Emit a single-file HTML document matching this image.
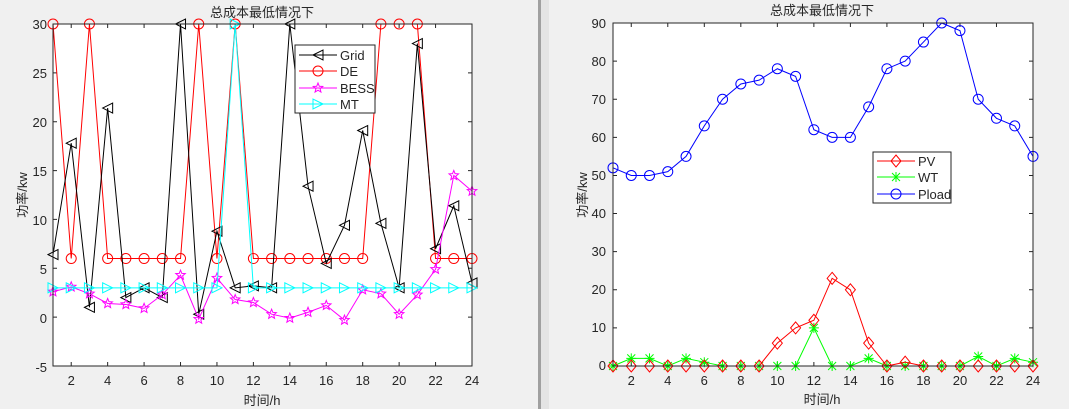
<!DOCTYPE html>
<html><head><meta charset="utf-8"><style>
body{margin:0;background:#f0f0f0;width:1069px;height:409px;overflow:hidden}
svg{position:absolute;left:0;top:0}
text{font-family:"Liberation Sans","Noto Sans CJK SC",sans-serif;font-size:13px;fill:#262626}
</style></head><body>
<svg width="1069" height="409" xmlns="http://www.w3.org/2000/svg">
<rect x="538" y="0" width="3" height="409" fill="#a0a0a0"/>
<rect x="541" y="0" width="8" height="409" fill="#e4e4e4"/>
<rect x="53" y="24" width="419" height="342" fill="#fff"/>
<rect x="613" y="23" width="420" height="343" fill="#fff"/>
<g id="g"></g>
<rect x="53" y="24" width="419" height="342" fill="none" stroke="#262626"/>
<rect x="613" y="23" width="420" height="343" fill="none" stroke="#262626"/>
<text x="262" y="17" text-anchor="middle">总成本最低情况下</text>
<text x="822" y="15" text-anchor="middle">总成本最低情况下</text>
<text x="262" y="405" text-anchor="middle" font-size="14">时间/h</text>
<text x="822" y="404" text-anchor="middle" font-size="14">时间/h</text>
<text transform="translate(27,195) rotate(-90)" text-anchor="middle" font-size="14">功率/kw</text>
<text transform="translate(587,195) rotate(-90)" text-anchor="middle" font-size="14">功率/kw</text>
<g text-anchor="end">
<text x="47" y="29">30</text><text x="47" y="78">25</text><text x="47" y="127">20</text><text x="47" y="176">15</text><text x="47" y="225">10</text><text x="47" y="274">5</text><text x="47" y="323">0</text><text x="47" y="372">-5</text>
<text x="606" y="28">90</text><text x="606" y="66">80</text><text x="606" y="104">70</text><text x="606" y="142">60</text><text x="606" y="180">50</text><text x="606" y="218">40</text><text x="606" y="256">30</text><text x="606" y="294">20</text><text x="606" y="332">10</text><text x="606" y="370">0</text>
</g>
<g id="xl" text-anchor="middle"></g>
<g font-size="12">
<rect x="295" y="45" width="80" height="68" fill="#fff" stroke="#262626"/>
<text x="340" y="60">Grid</text><text x="340" y="76">DE</text><text x="340" y="93">BESS</text><text x="340" y="109">MT</text>
<rect x="873" y="152" width="78" height="51" fill="#fff" stroke="#262626"/>
<text x="918" y="166">PV</text><text x="918" y="182">WT</text><text x="918" y="199">Pload</text>
</g>
<g id="lg"></g>
</svg>
<script>
const NS="http://www.w3.org/2000/svg",g=document.getElementById('g'),lg=document.getElementById('lg'),xl=document.getElementById('xl');
function el(p,t,a){const e=document.createElementNS(NS,t);for(const k in a)e.setAttribute(k,a[k]);p.appendChild(e);return e}
function mk(p,x,y,m,c){const s=5;
 if(m=='o')el(p,'circle',{cx:x,cy:y,r:5,fill:'none',stroke:c});
 else if(m=='<')el(p,'polygon',{points:`${x-s},${y} ${x+s},${y-s} ${x+s},${y+s}`,fill:'none',stroke:c});
 else if(m=='>')el(p,'polygon',{points:`${x+s},${y} ${x-s},${y-s} ${x-s},${y+s}`,fill:'none',stroke:c});
 else if(m=='d')el(p,'polygon',{points:`${x},${y-6} ${x+5},${y} ${x},${y+6} ${x-5},${y}`,fill:'none',stroke:c});
 else if(m=='*'){el(p,'path',{d:`M${x-5} ${y}H${x+5}M${x} ${y-5}V${y+5}M${x-4} ${y-4}L${x+4} ${y+4}M${x-4} ${y+4}L${x+4} ${y-4}`,stroke:c,fill:'none'})}
 else if(m=='p'){let pts=[];for(let i=0;i<10;i++){const r=i%2?2.2:5,a=-Math.PI/2+i*Math.PI/5;pts.push((x+r*Math.cos(a))+','+(y+r*Math.sin(a)))}el(p,'polygon',{points:pts.join(' '),fill:'none',stroke:c})}}
function plot(x0,x1,y0,y1,ymin,ymax,data,c,m){const X=i=>x0+(i)*(x1-x0)/23,Y=v=>y1-(v-ymin)*(y1-y0)/(ymax-ymin);
 el(g,'polyline',{points:data.map((v,i)=>X(i)+','+Y(v)).join(' '),fill:'none',stroke:c});
 data.forEach((v,i)=>mk(g,X(i),Y(v),m,c))}
function axes(x0,x1,y0,y1,ymin,ymax,step){for(let i=2;i<=24;i+=2){const x=x0+(i-1)*(x1-x0)/23;
 el(g,'path',{d:`M${x} ${y1}v-4M${x} ${y0}v4`,stroke:'#262626'});const t=el(xl,'text',{x:x,y:y1+19});t.textContent=i}
 for(let v=ymin;v<=ymax;v+=step){const y=y1-(v-ymin)*(y1-y0)/(ymax-ymin);el(g,'path',{d:`M${x0} ${y}h4M${x1} ${y}h-4`,stroke:'#262626'})}}
axes(53,472,24,366,-5,30,5);axes(613,1033,23,366,0,90,10);
const L=[53,472,24,366,-5,30],R=[613,1033,23,366,0,90];
plot(...L,[30,6,30,6,6,6,6,6,30,6,30,6,6,6,6,6,6,6,30,30,30,6,6,6],'#ff0000','o');
plot(...L,[6.4,17.8,1,21.4,2,3,2,30,0.3,8.8,3,3.2,3,30,13.4,5.5,9.4,19.1,9.6,3,28,7,11.4,3.5],'#000','<');
plot(...L,[2.6,3.1,2.4,1.4,1.3,0.9,2.3,4.3,-0.2,4,1.8,1.5,0.3,-0.1,0.5,1.2,-0.3,2.8,2.4,0.3,2.3,4.9,14.5,12.9],'#ff00ff','p');
plot(...L,[3,3,3,3,3,3,3,3,3,3,30,3,3,3,3,3,3,3,3,3,3,3,3,3],'#00ffff','>');
plot(...R,[52,50,50,51,55,63,70,74,75,78,76,62,60,60,68,78,80,85,90,88,70,65,63,55],'#0000ff','o');
plot(...R,[0,2,2,0,2,1,0,0,0,0,0,10,0,0,2,0,0,0,0,0,2.5,0,2,1],'#00ff00','*');
plot(...R,[0,0,0,0,0,0,0,0,0,6,10,12,23,20,6,0,1,0,0,0,0,0,0,0],'#ff0000','d');
[[55,'#000','<'],[71,'#ff0000','o'],[88,'#ff00ff','p'],[104,'#00ffff','>']].forEach(([y,c,m])=>{el(lg,'path',{d:`M299 ${y}H337`,stroke:c});mk(lg,318,y,m,c)});
[[161,'#ff0000','d'],[177,'#00ff00','*'],[194,'#0000ff','o']].forEach(([y,c,m])=>{el(lg,'path',{d:`M877 ${y}H915`,stroke:c});mk(lg,896,y,m,c)});
</script>
</body></html>
